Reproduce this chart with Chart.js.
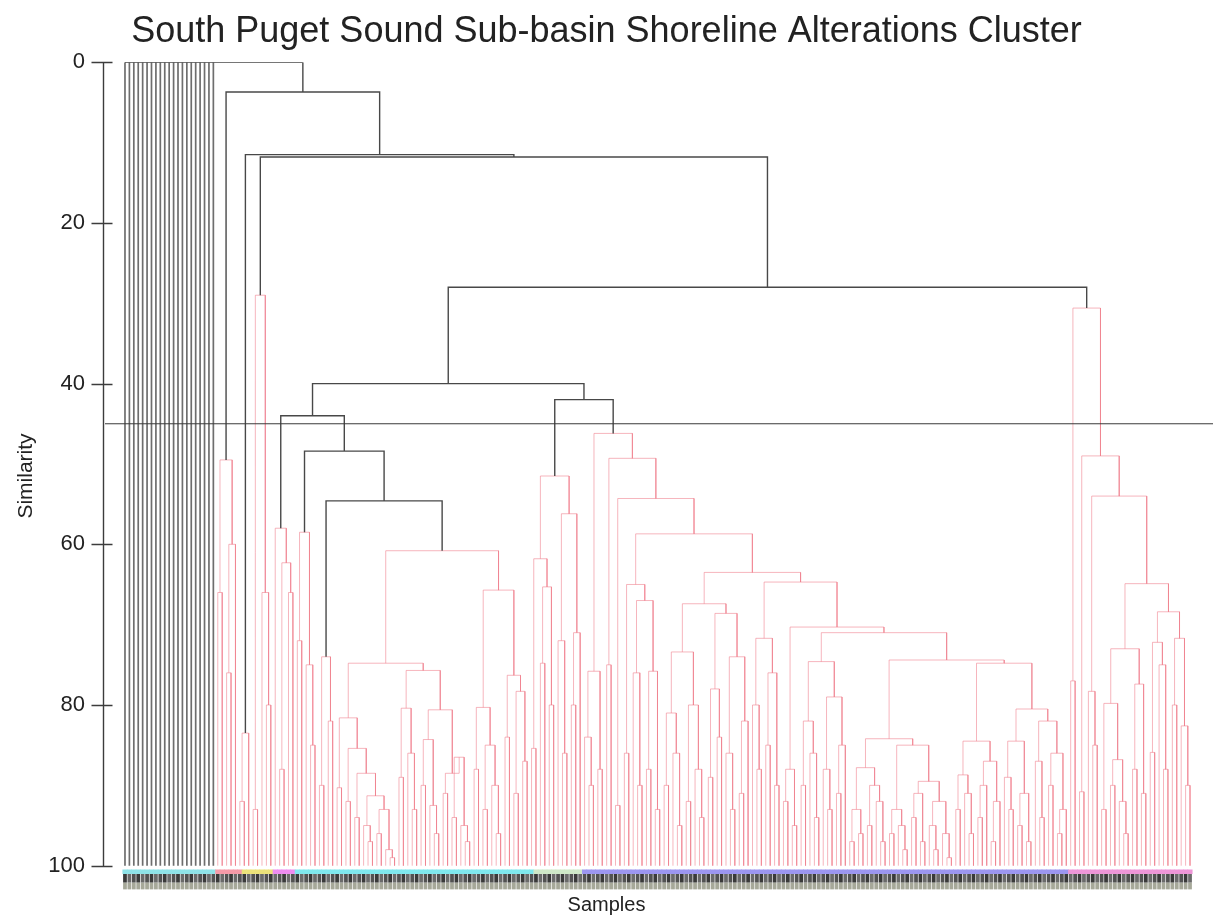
<!DOCTYPE html>
<html>
<head>
<meta charset="utf-8">
<script src="https://cdn.jsdelivr.net/npm/chart.js@4.4.1/dist/chart.umd.min.js"></script>
<style>
  html, body { margin: 0; padding: 0; background: #fff; }
  #wrap { width: 1215px; height: 923px; }
</style>
</head>
<body>
<div id="wrap"><canvas id="chart" width="1215" height="923"></canvas></div>
<script>
// dendrogram clusters: [similarity, child, child...], 0 = a sample (leaf)
// ['k', ...] marks the black (significant) links above the cut
const clusterA = [49.5, [66, 0, 0], [60, [76, 0, 0], 0]];
const clusterB = [83.5, [92, 0, 0], 0];
const clusterC = [29, [93, 0, 0], [66, 0, [80, 0, 0]]];
const clusterD = [58, 0, [62.3, [88, 0, 0], [66, 0, 0]]];
const clusterE = [58.5, [72, 0, 0], [75, 0, [85, 0, 0]]];
const clusterF = [74, [90, 0, 0], [82, 0, 0]];

const clusterG1L = [81.6, [90.3, 0, 0], [85.4, [92, 0, 0], [88.5, [94, 0, 0], [91.3, [95, 0, [97, 0, 0]], [93, [96, 0, 0], [98, 0, [99, 0, 0]]]]]]];
const clusterG1R = [75.7, [80.4, [89, 0, 0], [86, 0, [93, 0, 0]]], [80.6, [84.3, [90, 0, 0], [92.5, 0, [96, 0, 0]]], [88.5, [91, 0, 0], [86.5, [94, 0, 0], [95, 0, [97, 0, 0]]]]]];
const clusterG2 = [65.7, [80.3, [88, 0, 0], [85, [93, 0, 0], [90, 0, [96, 0, 0]]]], [76.3, [84, 0, 0], [78.3, [91, 0, 0], [87, 0, 0]]]];
const clusterG = [60.8, [74.8, clusterG1L, clusterG1R], clusterG2];

const clusterH = [51.5, [61.8, [85.4, 0, 0], [65.3, [74.8, 0, 0], [80, 0, 0]]], [56.2, [72, 0, [86, 0, 0]], [71, [80, 0, 0], 0]]];

const clusterI1 = [75.8, [84, 0, [90, 0, 0]], [88, 0, 0]];
const clusterI2L = [65, [86, 0, 0], [67, [76, 0, [90, 0, 0]], [75.8, [88, 0, 0], [93, 0, 0]]]];
const clusterRLa = [73.4, [81, [90, 0, 0], [86, 0, [95, 0, 0]]], [80, [92, 0, 0], [88, 0, [94, 0, 0]]]];
const clusterRLb = [68.6, [78, [89, 0, 0], [84, 0, 0]], [74, [86, 0, [93, 0, 0]], [82, [91, 0, 0], 0]]];
const clusterRRa = [71.7, [80, 0, [88, 0, 0]], [76, [85, 0, 0], [90, 0, 0]]];
const clusterRRb1 = [88, [92, 0, 0], [95, 0, 0]];
const clusterP = [74.6, [82, [90, 0, 0], [86, 0, [94, 0, 0]]], [79, [88, 0, [93, 0, 0]], [85, [91, 0, 0], 0]]];
const clusterQ1 = [84.2,
  [87.8, [93, [97, 0, 0], [96, 0, 0]], [90, [95, 0, 0], [92, 0, [97, 0, 0]]]],
  [85, [93, [96, 0, 0], [95, 0, [98, 0, 0]]], [89.5, [91, [94, 0, 0], [97, 0, 0]], [92, [95, 0, [98, 0, 0]], [96, 0, [99, 0, 0]]]]]];
const clusterQ2 = [74.8,
  [84.5, [88.7, [93, 0, 0], [91, 0, [96, 0, 0]]], [87, [90, [94, 0, 0], 0], [92, [97, 0, 0], 0]]],
  [80.5, [84.5, [89, 0, [93, 0, 0]], [91, [95, 0, 0], [97, 0, 0]]], [82, [87, 0, [94, 0, 0]], [86, [90, 0, 0], [93, [96, 0, 0], 0]]]]];
const clusterI = [46.2, clusterI1,
  [49.3, [75, 0, 0],
    [54.3, [92.5, 0, 0],
      [58.7, clusterI2L,
        [63.5, [67.4, clusterRLa, clusterRLb],
          [64.7, clusterRRa, [70.3, clusterRRb1, [71, clusterP, [74.4, clusterQ1, clusterQ2]]]]]]]]];

const clusterS1 = [73, [79.8, [93, 0, 0], [86.8, [90, 0, 0], [92, 0, [96, 0, 0]]]], [77.4, [88, 0, 0], [91, 0, 0]]];
const clusterS2 = [68.4, [72.2, [85.9, 0, 0], [75, 0, [88, 0, 0]]], [71.7, [80, 0, 0], [82.6, 0, [90, 0, 0]]]];
const clusterR = [30.6, [77, 0, 0], [49, [90.8, 0, 0], [54, [78.3, 0, [85, 0, 0]], [64.9, clusterS1, clusterS2]]]];

const zeroSimilarity = [0, 0, 0, 0, 0, 0, 0, 0, 0, 0, 0, 0, 0, 0, 0, 0, 0, 0, 0, 0, 0];

const tree = ['k', 0, ...zeroSimilarity,
  ['k', 3.7, clusterA,
    ['k', 11.5, clusterB,
      ['k', 11.8, clusterC,
        ['k', 28,
          ['k', 40,
            ['k', 44, clusterD, ['k', 48.4, clusterE, ['k', 54.6, clusterF, clusterG]]],
            ['k', 42, clusterH, clusterI]],
          clusterR]]]]];

const cutLevel = 45;
const yTicks = [0, 20, 40, 60, 80, 100];

// sample group colours in the label strip: [first leaf, last leaf, colour]
const stripGroups = [
  [0, 20, '#8fe3e8'], [21, 26, '#f59aa8'], [27, 33, '#ece27a'], [34, 38, '#ee8cf0'],
  [39, 92, '#7fe8ee'], [93, 103, '#cfe8c8'], [104, 213, '#9c96f0'], [214, 241, '#ee96d8']
];

// lay the tree out left to right
let leafCount = 0;
const segs = { k: [], r: [], g: [] };
function place(node) {
  if (node === 0) return { x: leafCount++, h: 100 };
  const black = node[0] === 'k';
  const h = black ? node[1] : node[0];
  const kids = node.slice(black ? 2 : 1).map(place);
  const list = black ? segs.k : segs.r;
  const first = kids[0], last = kids[kids.length - 1];
  if (h === 0) {
    // samples with no similarity to anything: plain grey stems
    list.push({x: first.x, y: h}, {x: last.x, y: h}, {x: last.x, y: null});
    kids.forEach(k => (k.h === 100 ? segs.g : list).push({x: k.x, y: k.h}, {x: k.x, y: h}, {x: k.x, y: null}));
  } else {
    list.push({x: first.x, y: first.h}, {x: first.x, y: h}, {x: last.x, y: h}, {x: last.x, y: last.h}, {x: last.x, y: null});
    kids.slice(1, -1).forEach(k => list.push({x: k.x, y: k.h}, {x: k.x, y: h}, {x: k.x, y: null}));
  }
  return { x: (first.x + last.x) / 2, h };
}
place(tree);

const xMin = -4.52, xMax = 246.2;
const leaves = [...Array(leafCount).keys()];
const leafColor = i => (stripGroups.find(g => i >= g[0] && i <= g[1]) || [0, 0, '#ccc'])[2];

const axisPlugin = {
  id: 'axisPlugin',
  afterDraw(chart) {
    const y = chart.scales.y, ctx = chart.ctx, x0 = chart.chartArea.left - 1.5;
    ctx.save();
    ctx.strokeStyle = '#3c3c3c';
    ctx.lineWidth = 1.4;
    ctx.beginPath();
    ctx.moveTo(x0, y.getPixelForValue(0));
    ctx.lineTo(x0, y.getPixelForValue(100));
    yTicks.forEach(v => {
      const p = Math.round(y.getPixelForValue(v)) + 0.5;
      ctx.moveTo(x0 - 12, p);
      ctx.lineTo(x0 + 9, p);
    });
    ctx.stroke();
    ctx.restore();
  }
};

const font = 'Liberation Sans, Arial, sans-serif';

new Chart(document.getElementById('chart'), {
  type: 'line',
  data: {
    datasets: [
      { label: 'cut', data: [{x: xMin, y: cutLevel}, {x: xMax, y: cutLevel}], borderColor: '#3a3a3a', borderWidth: 1, pointRadius: 0 },
      { label: 'significant', data: segs.k, borderColor: '#484848', borderWidth: 1.4, pointRadius: 0, spanGaps: false },
      { label: 'zero similarity', data: segs.g, borderColor: '#6e6e6e', borderWidth: 1.7, pointRadius: 0, spanGaps: false },
      { label: 'not significant', data: segs.r, borderColor: 'rgba(238,120,134,0.55)', borderWidth: 1, pointRadius: 0, spanGaps: false },
      { type: 'bar', label: 'group', grouped: false, data: leaves.map(i => ({x: i, y: [100.5, 101.0]})),
        backgroundColor: leaves.map(leafColor), barPercentage: 1, categoryPercentage: 1 },
      { type: 'bar', label: 'codes', grouped: false, data: leaves.map(i => ({x: i, y: [101.0, 102.1]})),
        backgroundColor: leaves.map(i => i % 3 === 0 ? '#3a3a3a' : (i % 3 === 1 ? '#6a6a6a' : '#525252')), barPercentage: 0.85, categoryPercentage: 1 },
      { type: 'bar', label: 'codes2', grouped: false, data: leaves.map(i => ({x: i, y: [102.1, 102.95]})),
        backgroundColor: '#a6a899', barPercentage: 0.85, categoryPercentage: 1 }
    ]
  },
  options: {
    responsive: false,
    animation: false,
    devicePixelRatio: 1,
    layout: { padding: { left: 0, right: 2, top: 0, bottom: 0 } },
    plugins: {
      legend: { display: false },
      tooltip: { enabled: false },
      title: {
        display: true,
        text: 'South Puget Sound Sub-basin Shoreline Alterations Cluster',
        color: '#222',
        font: { family: font, size: 36, weight: 'normal' },
        padding: { top: 10, bottom: 9 }
      },
      subtitle: {
        display: true,
        position: 'bottom',
        text: 'Samples',
        color: '#222',
        font: { family: font, size: 20, weight: 'normal' },
        padding: { top: 4, bottom: 3 }
      }
    },
    scales: {
      x: {
        type: 'linear',
        display: false,
        min: xMin,
        max: xMax,
        offset: false,
        grid: { offset: false }
      },
      y: {
        min: 0,
        max: 103,
        reverse: true,
        afterBuildTicks: s => { s.ticks = yTicks.map(v => ({ value: v })); },
        afterFit: s => { s.width = 105; },
        border: { display: false },
        grid: { display: false, drawTicks: false },
        ticks: {
          padding: 20,
          color: '#222',
          font: { family: font, size: 22 }
        },
        title: {
          display: true,
          text: 'Similarity',
          color: '#222',
          font: { family: font, size: 21 },
          padding: { top: 14, bottom: 14 }
        }
      }
    }
  },
  plugins: [axisPlugin]
});
</script>
</body>
</html>
